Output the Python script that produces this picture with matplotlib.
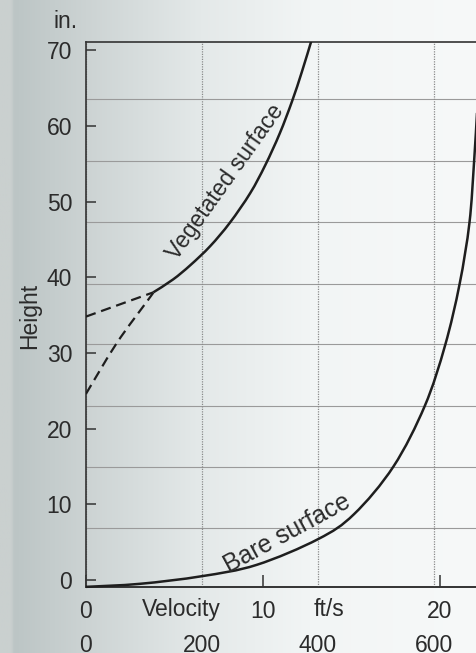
import numpy as np
import matplotlib
matplotlib.use("Agg")
import matplotlib.pyplot as plt
from matplotlib.path import Path
from matplotlib.patches import PathPatch
from matplotlib.transforms import blended_transform_factory

plt.rcParams['font.family'] = ['Liberation Sans', 'DejaVu Sans']

# ---- data (velocity in cm/s, height in inches) ----
veg_x = [116, 150, 180, 214, 248, 283, 309, 334, 355, 372, 388]
veg_y = [38.0, 39.7, 41.6, 44.1, 47.2, 51.1, 54.8, 59.0, 63.2, 67.1, 71.1]

veg_dash_hi_x = [0, 116]
veg_dash_hi_y = [34.8, 38.0]
veg_dash_lo_x = [0, 53, 107, 116]
veg_dash_lo_y = [24.6, 31.3, 37.0, 37.95]

bare_x = [0, 93, 199, 294, 400, 462, 530, 584, 619, 644, 661, 669, 674]
bare_y = [-0.9, -0.5, 0.5, 2.0, 5.4, 8.7, 15.0, 23.0, 31.0, 39.1, 47.2, 55.3, 61.7]

y_ticks = [0, 10, 20, 30, 40, 50, 60, 70]
x_ticks_cm = [0, 200, 400, 600]
x_ticks_ft = [0, 10, 20]
h_grid = [6.91, 14.97, 23.03, 31.14, 39.14, 47.29, 55.35, 63.50]


def smooth_path(xs, ys):
    """Catmull-Rom curve through the given points, as Bezier path segments."""
    p = np.column_stack([xs, ys]).astype(float)
    n = len(p)
    verts = [p[0]]
    codes = [Path.MOVETO]
    for i in range(n - 1):
        p0 = p[i - 1] if i > 0 else p[i]
        p1, p2 = p[i], p[i + 1]
        p3 = p[i + 2] if i + 2 < n else p[i + 1]
        c1 = p1 + (p2 - p0) / 6.0
        c2 = p2 - (p3 - p1) / 6.0
        verts += [c1, c2, p2]
        codes += [Path.CURVE4] * 3
    return Path(verts, codes)


W, H = 477, 653
fig = plt.figure(figsize=(W / 100, H / 100), dpi=100)

# background gradient
bg = fig.add_axes([0, 0, 1, 1], zorder=-10)
xs = np.linspace(0, 1, 300)
stops_x = [0.0, 0.022, 0.028, 0.18, 0.42, 0.65, 1.0]
stops_c = np.array([[202, 208, 207], [202, 208, 207], [188, 197, 197], [204, 211, 211],
                    [228, 233, 233], [242, 245, 245], [247, 249, 249]]) / 255.0
grad = np.stack([np.interp(xs, stops_x, stops_c[:, k]) for k in range(3)], axis=-1)
img = np.repeat(grad[None, :, :], 2, axis=0)
bg.imshow(img, aspect='auto', extent=[0, 1, 0, 1])
bg.axis('off')

ax = fig.add_axes([86 / W, (H - 587) / H, (W - 86) / W, (587 - 42) / H])
ax.set_facecolor('none')
ax.set_xlim(0, 674)
ax.set_ylim(-0.92, 71.07)

# grid
for g in h_grid:
    ax.axhline(g, color='#9a9a9a', lw=0.8, zorder=1)
ax.xaxis.grid(True, color='#8a8a8a', lw=0.9, ls=(0, (1, 1)), zorder=1)

# curves
ink = '#1e1e1e'
ax.add_patch(PathPatch(smooth_path(veg_x, veg_y), fill=False, ec=ink, lw=1.8, zorder=3))
ax.add_patch(PathPatch(smooth_path(veg_dash_hi_x, veg_dash_hi_y), fill=False, ec=ink,
                       lw=1.6, ls=(0, (4.6, 2.6)), zorder=3))
ax.add_patch(PathPatch(smooth_path(veg_dash_lo_x, veg_dash_lo_y), fill=False, ec=ink,
                       lw=1.6, ls=(0, (4.6, 2.6)), zorder=3))
ax.add_patch(PathPatch(smooth_path(bare_x, bare_y), fill=False, ec=ink, lw=1.8,
                       zorder=3, clip_on=False))

txtc = '#2b2b2b'
fs = 16.5
ax.text(241, 52.6, 'Vegetated surface', rotation=54.5, ha='center', va='center',
        fontsize=fs, color=txtc, rotation_mode='anchor')
ax.text(347, 6.2, 'Bare surface', rotation=28.5, ha='center', va='center',
        fontsize=17.8, color=txtc, rotation_mode='anchor')

# spines
for s in ['left', 'bottom', 'top']:
    ax.spines[s].set_color('#333333')
    ax.spines[s].set_linewidth(1.2)
ax.spines['right'].set_visible(False)

# y axis
ax.set_yticks(y_ticks)
ax.tick_params(axis='y', direction='in', length=7, width=1.1, color='#333333',
               labelsize=fs, labelcolor=txtc, pad=10)

# x axis (cm/s, second row)
ax.set_xticks(x_ticks_cm)
ax.set_xticklabels([str(v) for v in x_ticks_cm])
ax.tick_params(axis='x', length=0, labelsize=fs, labelcolor=txtc, pad=33.5)

# x axis (ft/s, first row)
sec = ax.secondary_xaxis('bottom', functions=(lambda v: v / 30.48, lambda v: v * 30.48))
sec.set_xticks(x_ticks_ft)
sec.set_xticklabels([str(v) for v in x_ticks_ft])
sec.tick_params(axis='x', direction='in', length=9, width=1.1, color='#333333',
                labelsize=fs, labelcolor=txtc, pad=9)
sec.spines['bottom'].set_color('#333333')
sec.spines['bottom'].set_linewidth(1.2)

tb = blended_transform_factory(ax.transData, ax.transAxes)
ax.text(165, -0.041, 'Velocity', transform=tb, ha='center', va='center',
        fontsize=fs, color=txtc)
ax.text(419, -0.041, 'ft/s', transform=tb, ha='center', va='center',
        fontsize=fs, color=txtc)

ax.text(-0.143, 0.497, 'Height', transform=ax.transAxes, rotation=90,
        ha='center', va='center', fontsize=16.5, color=txtc)
ax.text(-0.051, 1.0385, 'in.', transform=ax.transAxes, ha='center', va='center',
        fontsize=fs, color=txtc)

fig.savefig('out.png', dpi=100)
